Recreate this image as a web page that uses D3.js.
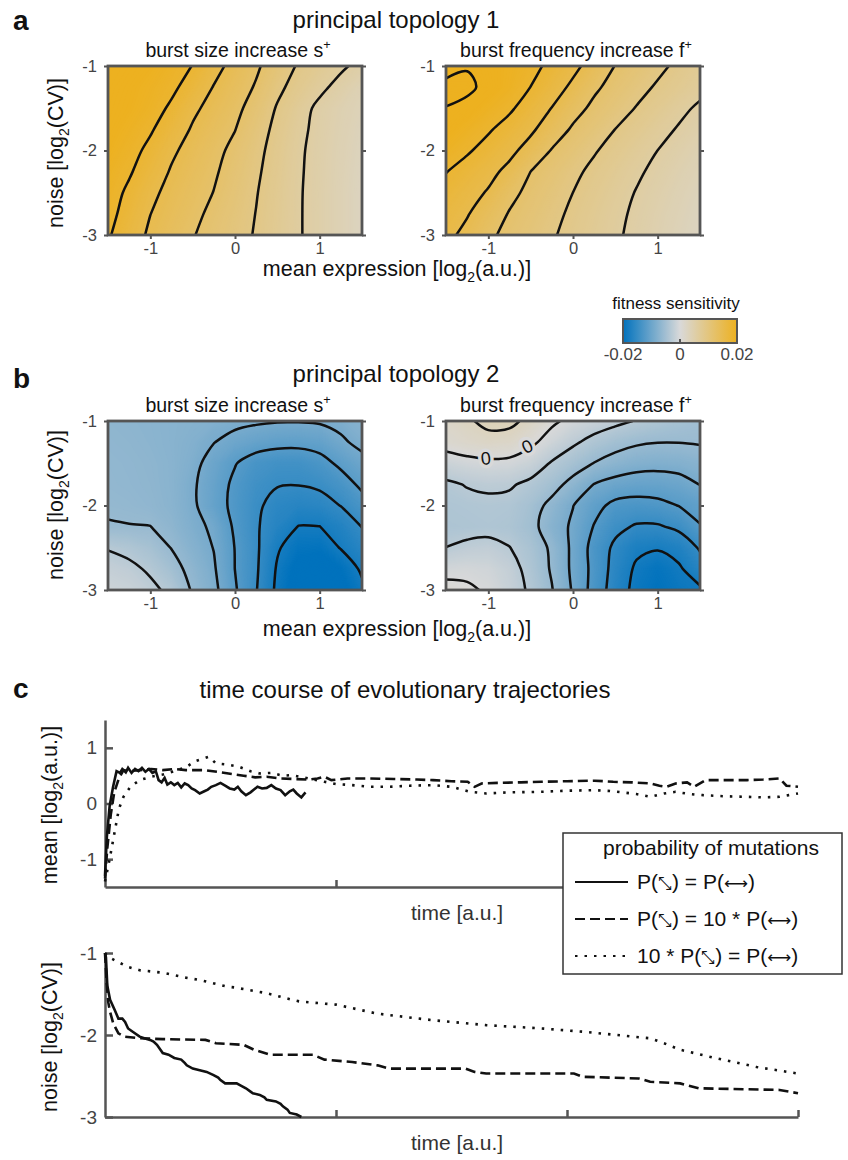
<!DOCTYPE html>
<html>
<head>
<meta charset="utf-8">
<script src="https://cdn.jsdelivr.net/npm/d3@7/dist/d3.min.js"></script>
<style>
  body { margin: 0; background: #fff; }
  svg text { font-family: "Liberation Sans", Arial, Helvetica, sans-serif; }
</style>
</head>
<body>
<svg id="fig" width="848" height="1160"></svg>
<script>
// heat map grid: columns = mean expression, rows = noise (top row first)
const meanGrid = [-1.5, -1.25, -1, -0.75, -0.5, -0.25, 0, 0.25, 0.5, 0.75, 1, 1.25, 1.5];
const noiseGrid = [-1, -1.25, -1.5, -1.75, -2, -2.25, -2.5, -2.75, -3];

// fitness sensitivity, in units of 1e-3
const topo1Size = [
  [20.7, 20.4, 19.95, 19.2, 17.93, 15.9, 14.1, 12.41, 10.5, 8.73, 7.58, 6.42, 5.25],
  [20.55, 20.1, 19.5, 18.6, 16.8, 14.88, 13.35, 11.75, 9.6, 7.98, 6.57, 5.21, 3.9],
  [20.4, 19.95, 19.2, 17.55, 15.53, 14.1, 12.68, 10.88, 8.78, 7.05, 5.4, 4.35, 3.45],
  [20.25, 19.5, 18.3, 16.5, 14.73, 13.4, 12.06, 10.17, 8.33, 6.63, 5.28, 4.2, 3.15],
  [19.95, 18.96, 17.33, 15.45, 14.04, 12.75, 11.34, 9.68, 8.03, 6.39, 5.15, 4.05, 3.0],
  [19.5, 18.3, 16.5, 14.76, 13.55, 12.33, 10.91, 9.38, 7.83, 6.3, 5.1, 3.98, 2.85],
  [19.2, 17.48, 15.6, 14.22, 13.1, 11.94, 10.53, 9.12, 7.67, 6.23, 5.06, 3.9, 2.78],
  [18.83, 16.92, 15.03, 13.8, 12.63, 11.4, 10.19, 8.94, 7.58, 6.21, 5.06, 3.9, 2.78],
  [18.3, 16.31, 14.57, 13.35, 12.15, 11.03, 9.93, 8.79, 7.5, 6.21, 5.06, 3.9, 2.78]
];
const topo1Freq = [
  [19.95, 20.85, 20.25, 19.65, 18.84, 17.3, 15.71, 13.86, 11.91, 10.76, 9.6, 8.46, 7.35],
  [21.75, 21.45, 20.4, 19.5, 17.97, 16.26, 14.45, 12.48, 11.07, 9.84, 8.69, 7.71, 6.75],
  [20.93, 20.4, 19.5, 18.42, 16.68, 14.93, 13.01, 11.39, 10.13, 8.87, 7.74, 6.63, 5.58],
  [20.25, 19.44, 18.3, 16.94, 15.47, 13.55, 11.63, 10.32, 8.97, 7.92, 6.83, 5.78, 4.8],
  [19.44, 18.32, 17.04, 15.69, 13.94, 11.84, 10.53, 9.21, 8.12, 7.05, 5.99, 5.03, 4.13],
  [18.09, 16.94, 15.78, 14.28, 11.99, 10.77, 9.54, 8.43, 7.4, 6.38, 5.4, 4.47, 3.6],
  [17.1, 15.99, 14.76, 12.74, 11.28, 10.14, 8.99, 7.95, 6.92, 5.88, 4.95, 4.05, 3.15],
  [16.31, 15.18, 13.5, 11.82, 10.73, 9.62, 8.57, 7.56, 6.56, 5.58, 4.65, 3.75, 2.85],
  [15.68, 14.28, 12.5, 11.27, 10.26, 9.24, 8.27, 7.31, 6.35, 5.4, 4.47, 3.53, 2.63]
];
const topo2Size = [
  [-6.9, -7.05, -7.2, -7.43, -7.65, -7.95, -8.33, -8.63, -8.85, -8.85, -8.7, -8.25, -7.5],
  [-6.75, -6.9, -7.13, -7.43, -7.95, -8.93, -9.9, -10.65, -11.1, -11.18, -10.8, -9.45, -8.25],
  [-6.6, -6.75, -6.98, -7.35, -8.25, -10.05, -11.85, -13.35, -13.95, -13.95, -13.05, -11.4, -9.9],
  [-6.53, -6.68, -6.9, -7.35, -8.63, -10.5, -12.6, -14.1, -14.85, -14.93, -14.55, -13.35, -11.4],
  [-6.3, -6.45, -6.75, -7.28, -8.55, -10.65, -12.75, -14.55, -15.9, -16.35, -16.05, -14.93, -13.2],
  [-5.85, -5.93, -5.97, -6.9, -8.25, -9.45, -12.45, -14.7, -16.5, -18.08, -18.03, -16.8, -14.93],
  [-3.15, -3.75, -4.65, -6.08, -7.65, -9.08, -12.08, -14.55, -17.7, -19.5, -19.65, -17.85, -16.2],
  [-1.95, -2.4, -3.38, -4.95, -6.9, -8.7, -12.03, -14.63, -18.3, -20.7, -21.15, -19.95, -17.55],
  [-1.05, -1.5, -2.4, -3.6, -6.3, -8.25, -11.7, -14.85, -18.6, -21.45, -21.9, -20.85, -18.6]
];
const topo2Freq = [
  [1.8, 2.63, 3.68, 3.6, 2.33, 0.45, -0.68, -1.5, -2.33, -3.15, -3.9, -4.58, -5.18],
  [1.05, 1.65, 2.1, 1.88, 0.53, -1.05, -2.55, -3.9, -4.95, -5.63, -5.93, -5.93, -5.78],
  [-1.35, -0.83, -0.53, -0.68, -1.5, -3.23, -4.65, -6.08, -7.13, -7.88, -8.1, -7.95, -7.43],
  [-3.45, -2.85, -2.55, -2.7, -3.6, -4.95, -6.9, -9.08, -10.05, -10.5, -10.5, -10.05, -8.93],
  [-3.9, -3.75, -3.6, -3.75, -4.8, -6.75, -8.93, -11.1, -12.75, -13.05, -12.75, -11.93, -11.1],
  [-4.05, -3.98, -3.83, -4.05, -5.1, -7.5, -9.45, -12.15, -14.25, -15.3, -15.3, -14.4, -12.15],
  [-2.97, -2.4, -2.18, -2.93, -4.35, -6.45, -9.6, -13.05, -15.6, -17.4, -17.78, -16.95, -14.7],
  [-0.75, -0.6, -0.9, -1.95, -3.9, -6.3, -9.6, -12.9, -16.05, -18.45, -19.5, -18.38, -16.35],
  [0.75, 0.38, -0.3, -1.65, -3.45, -5.85, -9.3, -13.2, -16.35, -18.9, -19.95, -19.05, -18.45]
];
const levels1 = [6, 9, 12, 15, 18, 21];
const levels2 = [-18, -15, -12, -9, -6, -3, 0, 3];
// inline "0" labels on the zero contour of topology 2 / f+ : [mean, noise, angle]
const zeroLabels = [[-1.03, -1.44, -6], [-0.54, -1.3, -26]];

const heatTicksX = [-1, 0, 1];
const heatTicksY = [-1, -2, -3];
const cbarTicks = [-0.02, 0, 0.02];

// evolutionary trajectories: [time, value]
const seriesNames = ["P(\u2921) = P(\u27F7)", "P(\u2921) = 10 * P(\u27F7)", "10 * P(\u2921) = P(\u27F7)"];
const timeTicks = [1, 2, 3];
const meanTicks = [-1, 0, 1];
const noiseTicks = [-1, -2, -3];

const meanSame = [[0,-1.3],[0.008,-0.6],[0.02,-0.05],[0.035,0.3],[0.05,0.58],[0.065,0.55],[0.075,0.62],[0.09,0.56],[0.1,0.64],[0.115,0.55],[0.13,0.62],[0.145,0.58],[0.16,0.64],[0.175,0.57],[0.19,0.62],[0.205,0.55],[0.22,0.58],[0.232,0.42],[0.245,0.38],[0.258,0.46],[0.27,0.34],[0.285,0.38],[0.3,0.33],[0.315,0.37],[0.33,0.29],[0.345,0.36],[0.36,0.33],[0.375,0.27],[0.39,0.24],[0.41,0.18],[0.43,0.22],[0.445,0.25],[0.46,0.3],[0.48,0.33],[0.5,0.37],[0.52,0.32],[0.54,0.27],[0.56,0.25],[0.575,0.3],[0.59,0.22],[0.61,0.15],[0.63,0.2],[0.645,0.25],[0.66,0.3],[0.68,0.27],[0.7,0.28],[0.72,0.33],[0.74,0.27],[0.76,0.24],[0.78,0.15],[0.8,0.22],[0.815,0.25],[0.83,0.18],[0.85,0.11],[0.868,0.2]];
const meanTenSize = [[0,-1.35],[0.01,-0.8],[0.025,-0.2],[0.04,0.2],[0.06,0.45],[0.08,0.6],[0.1,0.58],[0.15,0.6],[0.2,0.62],[0.25,0.6],[0.3,0.62],[0.35,0.6],[0.43,0.6],[0.5,0.56],[0.55,0.53],[0.6,0.5],[0.65,0.47],[0.7,0.48],[0.76,0.45],[0.82,0.44],[0.88,0.43],[0.92,0.45],[0.95,0.48],[0.98,0.42],[1.05,0.45],[1.14,0.45],[1.25,0.44],[1.35,0.43],[1.42,0.42],[1.5,0.4],[1.57,0.39],[1.6,0.3],[1.63,0.36],[1.7,0.37],[1.8,0.38],[1.89,0.39],[2.0,0.4],[2.12,0.41],[2.2,0.39],[2.28,0.38],[2.36,0.36],[2.4,0.32],[2.43,0.3],[2.47,0.36],[2.52,0.38],[2.55,0.3],[2.6,0.42],[2.7,0.42],[2.78,0.42],[2.85,0.43],[2.92,0.45],[2.95,0.32],[3.0,0.3]];
const meanTenNoise = [[0,-1.4],[0.02,-1.0],[0.04,-0.55],[0.06,-0.1],[0.08,0.12],[0.11,0.3],[0.15,0.42],[0.2,0.48],[0.25,0.52],[0.3,0.58],[0.35,0.65],[0.39,0.76],[0.42,0.8],[0.45,0.84],[0.48,0.72],[0.53,0.7],[0.58,0.66],[0.63,0.58],[0.67,0.54],[0.72,0.55],[0.77,0.5],[0.81,0.51],[0.88,0.45],[0.95,0.39],[1.0,0.35],[1.07,0.33],[1.15,0.3],[1.23,0.3],[1.32,0.32],[1.42,0.33],[1.5,0.3],[1.58,0.21],[1.65,0.18],[1.75,0.2],[1.89,0.21],[2.0,0.23],[2.12,0.24],[2.2,0.22],[2.3,0.17],[2.36,0.12],[2.42,0.18],[2.47,0.21],[2.53,0.17],[2.59,0.15],[2.68,0.13],[2.78,0.12],[2.85,0.11],[2.92,0.12],[2.96,0.15],[3.0,0.18]];

const noiseSame = [[0,-1.0],[0.004,-1.05],[0.01,-1.4],[0.022,-1.57],[0.043,-1.7],[0.058,-1.8],[0.075,-1.8],[0.087,-1.84],[0.1,-1.92],[0.12,-1.96],[0.15,-2.02],[0.17,-2.04],[0.195,-2.06],[0.21,-2.08],[0.225,-2.12],[0.24,-2.18],[0.25,-2.22],[0.275,-2.24],[0.3,-2.28],[0.33,-2.3],[0.345,-2.34],[0.354,-2.37],[0.38,-2.41],[0.41,-2.43],[0.44,-2.45],[0.47,-2.49],[0.49,-2.52],[0.5,-2.55],[0.52,-2.59],[0.57,-2.59],[0.59,-2.62],[0.61,-2.65],[0.63,-2.69],[0.64,-2.71],[0.67,-2.73],[0.69,-2.76],[0.7,-2.79],[0.74,-2.81],[0.76,-2.84],[0.77,-2.87],[0.79,-2.91],[0.8,-2.95],[0.83,-2.97],[0.85,-3.0]];
const noiseTenSize = [[0,-1.0],[0.007,-1.35],[0.014,-1.6],[0.022,-1.72],[0.036,-1.86],[0.058,-1.98],[0.084,-2.02],[0.15,-2.04],[0.25,-2.05],[0.435,-2.06],[0.48,-2.1],[0.6,-2.12],[0.645,-2.18],[0.716,-2.24],[0.9,-2.24],[0.95,-2.3],[1.07,-2.33],[1.18,-2.37],[1.23,-2.41],[1.56,-2.41],[1.6,-2.45],[1.65,-2.47],[2.03,-2.47],[2.07,-2.51],[2.31,-2.53],[2.36,-2.57],[2.49,-2.59],[2.57,-2.65],[2.92,-2.67],[3.0,-2.71]];
const noiseTenNoise = [[0,-1.0],[0.01,-1.04],[0.05,-1.1],[0.1,-1.17],[0.15,-1.21],[0.25,-1.24],[0.35,-1.3],[0.41,-1.33],[0.53,-1.41],[0.56,-1.42],[0.7,-1.49],[0.81,-1.57],[0.84,-1.59],[1.0,-1.63],[1.18,-1.74],[1.3,-1.78],[1.42,-1.82],[1.65,-1.88],[1.89,-1.92],[2.07,-1.96],[2.36,-2.04],[2.42,-2.1],[2.49,-2.18],[2.64,-2.28],[2.82,-2.39],[3.0,-2.47]];

const svg = d3.select("#fig");
const gray = "#555";
const tickGray = "#444";
const color = d3.scaleLinear()
  .domain([-0.02, 0, 0.02])
  .range(["#0072bd", "#d9d9d9", "#edb120"])
  .clamp(true);
const fillSteps = d3.range(-225, 226).map(k => k * 1e-4);
let clipCount = 0;

// text with sub/superscript/symbol parts
function rich(sel, parts, size) {
  let shift = 0;
  parts.forEach(([s, kind]) => {
    const want = kind === "sub" ? size * 0.28 : kind === "sup" ? -size * 0.42 : 0;
    const t = sel.append("tspan")
      .attr("dy", want - shift)
      .attr("font-size", kind === "sub" || kind === "sup" ? size * 0.65 : size)
      .text(s);
    if (kind === "sym") t.style("font-family", "'DejaVu Sans'").attr("font-size", size * 0.8);
    shift = want;
  });
  return sel;
}

function text(x, y, parts, size, opts = {}) {
  const t = svg.append("text")
    .attr("x", x).attr("y", y)
    .attr("font-size", size)
    .attr("text-anchor", opts.anchor || "middle")
    .attr("fill", opts.fill || "#111")
    .attr("font-weight", opts.bold ? "bold" : null);
  if (opts.rotate) t.attr("transform", `rotate(${opts.rotate},${x},${y})`);
  return rich(t, parts, size);
}

const noiseLabel = [["noise [log"], ["2", "sub"], ["(CV)]"]];
const meanExprLabel = [["mean expression [log"], ["2", "sub"], ["(a.u.)]"]];
const meanLabel = [["mean [log"], ["2", "sub"], ["(a.u.)]"]];
const sizeTitle = [["burst size increase s"], ["+", "sup"]];
const freqTitle = [["burst frequency increase f"], ["+", "sup"]];

// cut a contour ring into the pieces that are not on the grid border
function pieces(ring, nx, ny) {
  const pts = ring.slice(0, -1);
  const out = p => p[0] <= 0 || p[0] >= nx || p[1] <= 0 || p[1] >= ny;
  const start = pts.findIndex(out);
  if (start < 0) return [{ closed: true, pts }];
  const res = [];
  let cur = [];
  for (let k = 1; k <= pts.length; k++) {
    const p = pts[(start + k) % pts.length];
    if (out(p)) {
      if (cur.length > 1) res.push({ closed: false, pts: cur });
      cur = [];
    } else cur.push(p);
  }
  return res;
}

function heatmap(box, values, levels, title, labels) {
  const nx = meanGrid.length, ny = noiseGrid.length;
  const x = d3.scaleLinear().domain([meanGrid[0], meanGrid[nx - 1]]).range([box.left, box.right]);
  const y = d3.scaleLinear().domain([noiseGrid[0], noiseGrid[ny - 1]]).range([box.top, box.bottom]);
  // d3.contours puts sample i at grid coordinate i + 0.5
  const gx = d3.scaleLinear().domain([0.5, nx - 0.5]).range(x.range());
  const gy = d3.scaleLinear().domain([0.5, ny - 0.5]).range(y.range());
  const flat = values.flat().map(v => v * 1e-3);

  const id = "clip" + (clipCount++);
  svg.append("clipPath").attr("id", id).append("rect")
    .attr("x", box.left).attr("y", box.top)
    .attr("width", box.right - box.left).attr("height", box.bottom - box.top);
  const g = svg.append("g").attr("clip-path", `url(#${id})`);

  const geo = d3.geoPath(d3.geoTransform({
    point(px, py) { this.stream.point(gx(px), gy(py)); }
  }));
  const bands = d3.contours().size([nx, ny]).thresholds(fillSteps)(flat)
    .filter(b => b.coordinates.length);
  g.selectAll("path.band").data(bands).join("path")
    .attr("class", "band")
    .attr("d", geo)
    .attr("fill", d => color(d.value + 5e-5));

  const openLine = d3.line().x(p => gx(p[0])).y(p => gy(p[1])).curve(d3.curveCatmullRom.alpha(0.5));
  const closedLine = d3.line().x(p => gx(p[0])).y(p => gy(p[1])).curve(d3.curveCatmullRomClosed.alpha(0.5));
  const iso = d3.contours().size([nx, ny]).thresholds(levels.map(v => v * 1e-3))(flat);
  iso.forEach(c => c.coordinates.forEach(poly => poly.forEach(ring => {
    pieces(ring, nx, ny).forEach(pc => {
      g.append("path")
        .attr("d", pc.closed ? closedLine(pc.pts) : openLine(pc.pts))
        .attr("fill", "none")
        .attr("stroke", "#111")
        .attr("stroke-width", 2.5)
        .attr("stroke-linejoin", "round");
    });
  })));

  (labels || []).forEach(([mx, ny0, ang]) => {
    g.append("text")
      .attr("transform", `translate(${x(mx)},${y(ny0)}) rotate(${ang})`)
      .attr("text-anchor", "middle").attr("dy", "0.35em")
      .attr("font-size", 18)
      .attr("fill", "#111")
      .attr("stroke", color(0)).attr("stroke-width", 7)
      .attr("paint-order", "stroke")
      .text("0");
  });

  // axes: short outward ticks, labels left and bottom
  const styleAxis = a => {
    a.select(".domain").remove();
    a.selectAll("line").attr("stroke", gray).attr("stroke-width", 2);
    a.selectAll("text").attr("font-size", 16.5).attr("fill", tickGray);
  };
  svg.append("g").attr("transform", `translate(${box.left},0)`)
    .call(d3.axisLeft(y).tickValues(heatTicksY).tickSize(4).tickPadding(7).tickFormat(String))
    .call(styleAxis);
  svg.append("g").attr("transform", `translate(${box.right},0)`)
    .call(d3.axisRight(y).tickValues(heatTicksY).tickSize(4).tickFormat(""))
    .call(styleAxis);
  svg.append("g").attr("transform", `translate(0,${box.bottom})`)
    .call(d3.axisBottom(x).tickValues(heatTicksX).tickSize(4).tickPadding(3).tickFormat(String))
    .call(styleAxis);

  svg.append("rect")
    .attr("x", box.left).attr("y", box.top)
    .attr("width", box.right - box.left).attr("height", box.bottom - box.top)
    .attr("fill", "none").attr("stroke", gray).attr("stroke-width", 2.8);

  text((box.left + box.right) / 2 + 3, box.top - 9, title, 19.5);
}

// ---- panel a ----
text(13, 30, [["a"]], 28, { anchor: "start", bold: true });
text(396, 28, [["principal topology 1"]], 24);
heatmap({ left: 108, right: 362, top: 66, bottom: 235 }, topo1Size, levels1, sizeTitle);
heatmap({ left: 446, right: 700, top: 66, bottom: 235 }, topo1Freq, levels1, freqTitle);
text(63, 153, noiseLabel, 21.5, { rotate: -90 });
text(397, 276, meanExprLabel, 21.5);

// ---- colour bar ----
{
  const cb = { left: 623, right: 737, top: 319, bottom: 343 };
  const cx = d3.scaleLinear().domain([cbarTicks[0], cbarTicks[2]]).range([cb.left, cb.right]);
  const grad = svg.append("defs").append("linearGradient").attr("id", "cbar");
  d3.range(0, 41).forEach(k => {
    const v = cbarTicks[0] + (cbarTicks[2] - cbarTicks[0]) * k / 40;
    grad.append("stop").attr("offset", `${k * 2.5}%`).attr("stop-color", color(v));
  });
  svg.append("rect").attr("x", cb.left).attr("y", cb.top)
    .attr("width", cb.right - cb.left).attr("height", cb.bottom - cb.top)
    .attr("fill", "url(#cbar)").attr("stroke", gray).attr("stroke-width", 2);
  svg.append("line").attr("x1", cx(0)).attr("x2", cx(0))
    .attr("y1", cb.bottom).attr("y2", cb.bottom - 4)
    .attr("stroke", gray).attr("stroke-width", 2);
  cbarTicks.forEach(v => text(cx(v), 360, [[String(v)]], 17, { fill: tickGray }));
  text(676, 309, [["fitness sensitivity"]], 17);
}

// ---- panel b ----
text(13, 388, [["b"]], 28, { anchor: "start", bold: true });
text(396, 382, [["principal topology 2"]], 24);
heatmap({ left: 108, right: 362, top: 421, bottom: 590 }, topo2Size, levels2, sizeTitle);
heatmap({ left: 446, right: 700, top: 421, bottom: 590 }, topo2Freq, levels2, freqTitle, zeroLabels);
text(63, 505, noiseLabel, 21.5, { rotate: -90 });
text(397, 636, meanExprLabel, 21.5);

// ---- panel c ----
text(13, 698, [["c"]], 28, { anchor: "start", bold: true });
text(405, 698, [["time course of evolutionary trajectories"]], 24);

const tX = d3.scaleLinear().domain([0, 3]).range([105, 798]);
const meanY = d3.scaleLinear().domain([-1.5, 1.5]).range([887, 720]);
const noiseY = d3.scaleLinear().domain([-3, -1]).range([1117, 953]);
const dashes = [null, "10,5", "2.5,7"];

function tracePanel(yScale, ticks, series, yLabel, labelY) {
  const bottom = yScale.range()[0];
  const styleAxis = a => {
    a.selectAll("path, line").attr("stroke", gray).attr("stroke-width", 2.5);
    a.selectAll("text").attr("font-size", 19).attr("fill", tickGray);
  };
  svg.append("g").attr("transform", "translate(105,0)")
    .call(d3.axisLeft(yScale).tickValues(ticks).tickSize(-8).tickSizeOuter(0).tickPadding(8).tickFormat(String))
    .call(styleAxis);
  svg.append("g").attr("transform", `translate(0,${bottom})`)
    .call(d3.axisBottom(tX).tickValues(timeTicks).tickSize(-7).tickSizeOuter(0).tickFormat(""))
    .call(styleAxis);

  const line = d3.line().x(d => tX(d[0])).y(d => yScale(d[1]));
  series.forEach((s, i) => {
    svg.append("path").datum(s)
      .attr("d", line)
      .attr("fill", "none")
      .attr("stroke", "#111")
      .attr("stroke-width", 2.6)
      .attr("stroke-dasharray", dashes[i]);
  });
  text(57, labelY, yLabel, 21.5, { rotate: -90 });
  text(457, bottom + 33, [["time [a.u.]"]], 21, { fill: "#333" });
}

tracePanel(meanY, meanTicks, [meanSame, meanTenSize, meanTenNoise], meanLabel, 805);
tracePanel(noiseY, noiseTicks, [noiseSame, noiseTenSize, noiseTenNoise], noiseLabel, 1037);

// legend
{
  const lg = { left: 563, top: 833, right: 842, bottom: 974 };
  svg.append("rect").attr("x", lg.left).attr("y", lg.top)
    .attr("width", lg.right - lg.left).attr("height", lg.bottom - lg.top)
    .attr("fill", "#fff").attr("stroke", "#333").attr("stroke-width", 1.5);
  text(711, 855, [["probability of mutations"]], 21);
  seriesNames.forEach((name, i) => {
    const yy = 882 + i * 37;
    svg.append("line").attr("x1", 575).attr("x2", 628).attr("y1", yy).attr("y2", yy)
      .attr("stroke", "#111").attr("stroke-width", 1.8)
      .attr("stroke-dasharray", dashes[i]);
    const parts = name.split(/([\u2921\u27F7])/).filter(s => s)
      .map(s => /[\u2921\u27F7]/.test(s) ? [s, "sym"] : [s]);
    text(637, yy + 7, parts, 21, { anchor: "start" });
  });
}
</script>
</body>
</html>
